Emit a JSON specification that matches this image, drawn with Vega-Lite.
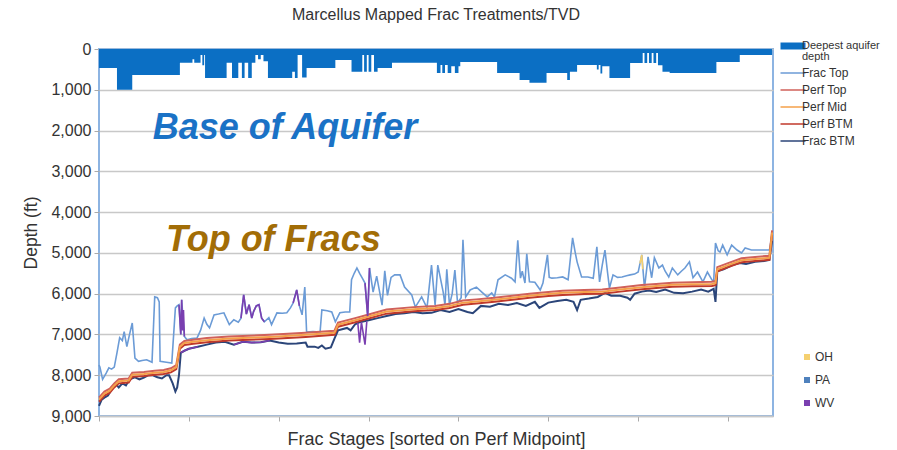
{
"$schema": "https://vega.github.io/schema/vega-lite/v6.json",
"width": 674, "height": 367,
"autosize": {"type": "none"},
"padding": {"left": 99, "top": 49, "right": 124, "bottom": 34},
"background": "white",
"config": {"font": "Liberation Sans", "view": {"stroke": "#8db4e2", "strokeWidth": 2}},
"title": {"text": "Marcellus Mapped Frac Treatments/TVD", "fontSize": 16, "fontWeight": "normal", "color": "#333", "frame": "group", "anchor": "middle", "offset": 17},
"datasets": {
"aquifer": [
{"x":0,"d":465},{"x":20,"d":1000},{"x":37,"d":640},{"x":90,"d":340},{"x":104,"d":250},{"x":106,"d":340},{"x":113,"d":150},{"x":115,"d":400},{"x":117,"d":150},{"x":118,"d":710},{"x":142,"d":340},{"x":148,"d":710},{"x":155,"d":340},{"x":159,"d":710},{"x":162,"d":340},{"x":166,"d":710},{"x":170,"d":340},{"x":174,"d":150},{"x":177,"d":250},{"x":180,"d":150},{"x":183,"d":300},{"x":188,"d":710},{"x":215,"d":560},{"x":218,"d":710},{"x":221,"d":150},{"x":226,"d":700},{"x":231,"d":465},{"x":263,"d":270},{"x":281,"d":560},{"x":293,"d":150},{"x":295,"d":560},{"x":298,"d":150},{"x":300,"d":560},{"x":303,"d":150},{"x":306,"d":560},{"x":310,"d":465},{"x":326,"d":340},{"x":376,"d":590},{"x":380,"d":390},{"x":382,"d":590},{"x":385,"d":390},{"x":388,"d":590},{"x":392,"d":420},{"x":396,"d":590},{"x":400,"d":420},{"x":402,"d":320},{"x":443,"d":590},{"x":468,"d":760},{"x":479,"d":830},{"x":498,"d":590},{"x":521,"d":760},{"x":524,"d":560},{"x":532,"d":390},{"x":554,"d":500},{"x":556,"d":390},{"x":558,"d":600},{"x":560,"d":420},{"x":568,"d":710},{"x":591,"d":343},{"x":605,"d":100},{"x":607,"d":343},{"x":610,"d":100},{"x":612,"d":343},{"x":615,"d":100},{"x":617,"d":343},{"x":620,"d":100},{"x":622,"d":400},{"x":627,"d":560},{"x":635,"d":590},{"x":687,"d":320},{"x":713,"d":150},{"x":749,"d":150}
],
"lines": [
{"s":"Frac Top","x":0,"d":7750},{"s":"Frac Top","x":1,"d":7800},{"s":"Frac Top","x":4,"d":8100},{"s":"Frac Top","x":8,"d":7950},{"s":"Frac Top","x":11,"d":7820},{"s":"Frac Top","x":14,"d":7850},{"s":"Frac Top","x":17,"d":7800},{"s":"Frac Top","x":20,"d":7450},{"s":"Frac Top","x":23,"d":7080},{"s":"Frac Top","x":26,"d":7150},{"s":"Frac Top","x":28,"d":6930},{"s":"Frac Top","x":31,"d":7300},{"s":"Frac Top","x":34,"d":7000},{"s":"Frac Top","x":37,"d":6720},{"s":"Frac Top","x":40,"d":7580},{"s":"Frac Top","x":44,"d":7660},{"s":"Frac Top","x":48,"d":7640},{"s":"Frac Top","x":53,"d":7620},{"s":"Frac Top","x":56,"d":7650},{"s":"Frac Top","x":59,"d":7680},{"s":"Frac Top","x":62,"d":6080},{"s":"Frac Top","x":65,"d":6100},{"s":"Frac Top","x":67,"d":6200},{"s":"Frac Top","x":68,"d":7660},{"s":"Frac Top","x":75,"d":7680},{"s":"Frac Top","x":81,"d":7700},{"s":"Frac Top","x":85,"d":6350},{"s":"Frac Top","x":87,"d":6300},{"s":"Frac Top","x":89,"d":6270},{"s":"Frac Top","x":91,"d":7000},{"s":"Frac Top","x":92,"d":6150},{"s":"Frac Top","x":95,"d":7050},{"s":"Frac Top","x":98,"d":7130},{"s":"Frac Top","x":103,"d":7100},{"s":"Frac Top","x":109,"d":7090},{"s":"Frac Top","x":113,"d":6900},{"s":"Frac Top","x":117,"d":6600},{"s":"Frac Top","x":120,"d":6750},{"s":"Frac Top","x":123,"d":6840},{"s":"Frac Top","x":128,"d":6520},{"s":"Frac Top","x":133,"d":6500},{"s":"Frac Top","x":139,"d":6470},{"s":"Frac Top","x":145,"d":6760},{"s":"Frac Top","x":150,"d":6640},{"s":"Frac Top","x":155,"d":6700},{"s":"Frac Top","x":158,"d":6600},{"s":"Frac Top","x":161,"d":6030},{"s":"Frac Top","x":164,"d":6500},{"s":"Frac Top","x":167,"d":6270},{"s":"Frac Top","x":170,"d":6600},{"s":"Frac Top","x":172,"d":6440},{"s":"Frac Top","x":175,"d":6300},{"s":"Frac Top","x":178,"d":6270},{"s":"Frac Top","x":181,"d":6600},{"s":"Frac Top","x":184,"d":6690},{"s":"Frac Top","x":189,"d":6590},{"s":"Frac Top","x":192,"d":6760},{"s":"Frac Top","x":198,"d":6470},{"s":"Frac Top","x":204,"d":6480},{"s":"Frac Top","x":209,"d":6470},{"s":"Frac Top","x":213,"d":6350},{"s":"Frac Top","x":216,"d":6230},{"s":"Frac Top","x":220,"d":5910},{"s":"Frac Top","x":223,"d":6300},{"s":"Frac Top","x":226,"d":6520},{"s":"Frac Top","x":229,"d":5840},{"s":"Frac Top","x":231,"d":6940},{"s":"Frac Top","x":238,"d":6930},{"s":"Frac Top","x":246,"d":6940},{"s":"Frac Top","x":248,"d":6400},{"s":"Frac Top","x":254,"d":6420},{"s":"Frac Top","x":259,"d":6450},{"s":"Frac Top","x":263,"d":6690},{"s":"Frac Top","x":268,"d":6470},{"s":"Frac Top","x":274,"d":6450},{"s":"Frac Top","x":279,"d":6450},{"s":"Frac Top","x":281,"d":5660},{"s":"Frac Top","x":284,"d":5500},{"s":"Frac Top","x":287,"d":5370},{"s":"Frac Top","x":290,"d":5500},{"s":"Frac Top","x":293,"d":5620},{"s":"Frac Top","x":296,"d":5740},{"s":"Frac Top","x":299,"d":6550},{"s":"Frac Top","x":301,"d":5370},{"s":"Frac Top","x":305,"d":5960},{"s":"Frac Top","x":309,"d":5570},{"s":"Frac Top","x":315,"d":6280},{"s":"Frac Top","x":318,"d":5440},{"s":"Frac Top","x":321,"d":6040},{"s":"Frac Top","x":325,"d":5600},{"s":"Frac Top","x":329,"d":5540},{"s":"Frac Top","x":335,"d":5540},{"s":"Frac Top","x":340,"d":5840},{"s":"Frac Top","x":348,"d":6030},{"s":"Frac Top","x":352,"d":6330},{"s":"Frac Top","x":359,"d":6080},{"s":"Frac Top","x":365,"d":6350},{"s":"Frac Top","x":370,"d":5300},{"s":"Frac Top","x":374,"d":6280},{"s":"Frac Top","x":377,"d":5300},{"s":"Frac Top","x":383,"d":5960},{"s":"Frac Top","x":385,"d":6280},{"s":"Frac Top","x":387,"d":5400},{"s":"Frac Top","x":390,"d":6280},{"s":"Frac Top","x":393,"d":6000},{"s":"Frac Top","x":396,"d":5420},{"s":"Frac Top","x":399,"d":6230},{"s":"Frac Top","x":403,"d":6100},{"s":"Frac Top","x":405,"d":4680},{"s":"Frac Top","x":408,"d":6080},{"s":"Frac Top","x":413,"d":5910},{"s":"Frac Top","x":420,"d":5840},{"s":"Frac Top","x":426,"d":5960},{"s":"Frac Top","x":432,"d":6080},{"s":"Frac Top","x":437,"d":5980},{"s":"Frac Top","x":440,"d":6080},{"s":"Frac Top","x":444,"d":5660},{"s":"Frac Top","x":452,"d":5540},{"s":"Frac Top","x":459,"d":5620},{"s":"Frac Top","x":463,"d":5710},{"s":"Frac Top","x":466,"d":4690},{"s":"Frac Top","x":469,"d":5620},{"s":"Frac Top","x":471,"d":5450},{"s":"Frac Top","x":474,"d":5740},{"s":"Frac Top","x":476,"d":5020},{"s":"Frac Top","x":479,"d":5710},{"s":"Frac Top","x":485,"d":5720},{"s":"Frac Top","x":491,"d":5910},{"s":"Frac Top","x":494,"d":5740},{"s":"Frac Top","x":499,"d":5050},{"s":"Frac Top","x":501,"d":5600},{"s":"Frac Top","x":504,"d":5620},{"s":"Frac Top","x":510,"d":5610},{"s":"Frac Top","x":516,"d":5590},{"s":"Frac Top","x":522,"d":5660},{"s":"Frac Top","x":527,"d":4630},{"s":"Frac Top","x":530,"d":5000},{"s":"Frac Top","x":532,"d":5220},{"s":"Frac Top","x":537,"d":5590},{"s":"Frac Top","x":544,"d":5590},{"s":"Frac Top","x":550,"d":5620},{"s":"Frac Top","x":554,"d":4850},{"s":"Frac Top","x":557,"d":5710},{"s":"Frac Top","x":560,"d":5300},{"s":"Frac Top","x":563,"d":4930},{"s":"Frac Top","x":566,"d":5500},{"s":"Frac Top","x":568,"d":5860},{"s":"Frac Top","x":572,"d":5540},{"s":"Frac Top","x":577,"d":5600},{"s":"Frac Top","x":582,"d":5590},{"s":"Frac Top","x":587,"d":5560},{"s":"Frac Top","x":591,"d":5540},{"s":"Frac Top","x":596,"d":5520},{"s":"Frac Top","x":600,"d":5470},{"s":"Frac Top","x":604,"d":5050},{"s":"Frac Top","x":607,"d":5860},{"s":"Frac Top","x":611,"d":5100},{"s":"Frac Top","x":615,"d":5610},{"s":"Frac Top","x":618,"d":5120},{"s":"Frac Top","x":623,"d":5370},{"s":"Frac Top","x":627,"d":5300},{"s":"Frac Top","x":630,"d":5450},{"s":"Frac Top","x":634,"d":5590},{"s":"Frac Top","x":638,"d":5370},{"s":"Frac Top","x":644,"d":5540},{"s":"Frac Top","x":648,"d":5450},{"s":"Frac Top","x":652,"d":5370},{"s":"Frac Top","x":657,"d":5220},{"s":"Frac Top","x":661,"d":5610},{"s":"Frac Top","x":666,"d":5470},{"s":"Frac Top","x":672,"d":5710},{"s":"Frac Top","x":677,"d":5470},{"s":"Frac Top","x":682,"d":5660},{"s":"Frac Top","x":684,"d":5700},{"s":"Frac Top","x":686,"d":4760},{"s":"Frac Top","x":689,"d":4950},{"s":"Frac Top","x":691,"d":4980},{"s":"Frac Top","x":694,"d":4810},{"s":"Frac Top","x":699,"d":5050},{"s":"Frac Top","x":704,"d":4810},{"s":"Frac Top","x":710,"d":4930},{"s":"Frac Top","x":715,"d":5000},{"s":"Frac Top","x":719,"d":4880},{"s":"Frac Top","x":726,"d":4930},{"s":"Frac Top","x":738,"d":4930},{"s":"Frac Top","x":746,"d":4930},{"s":"Frac Top","x":749,"d":4560},
{"s":"Frac BTM","x":0,"d":8750},{"s":"Frac BTM","x":3,"d":8600},{"s":"Frac BTM","x":6,"d":8550},{"s":"Frac BTM","x":10,"d":8500},{"s":"Frac BTM","x":14,"d":8350},{"s":"Frac BTM","x":18,"d":8200},{"s":"Frac BTM","x":22,"d":8300},{"s":"Frac BTM","x":26,"d":8200},{"s":"Frac BTM","x":30,"d":8250},{"s":"Frac BTM","x":34,"d":8100},{"s":"Frac BTM","x":40,"d":8050},{"s":"Frac BTM","x":45,"d":8100},{"s":"Frac BTM","x":50,"d":8060},{"s":"Frac BTM","x":55,"d":8000},{"s":"Frac BTM","x":60,"d":8000},{"s":"Frac BTM","x":65,"d":8050},{"s":"Frac BTM","x":70,"d":8080},{"s":"Frac BTM","x":75,"d":8000},{"s":"Frac BTM","x":78,"d":8000},{"s":"Frac BTM","x":82,"d":8200},{"s":"Frac BTM","x":85,"d":8400},{"s":"Frac BTM","x":87,"d":8300},{"s":"Frac BTM","x":89,"d":8000},{"s":"Frac BTM","x":91,"d":7450},{"s":"Frac BTM","x":95,"d":7400},{"s":"Frac BTM","x":100,"d":7350},{"s":"Frac BTM","x":110,"d":7300},{"s":"Frac BTM","x":120,"d":7250},{"s":"Frac BTM","x":130,"d":7200},{"s":"Frac BTM","x":140,"d":7180},{"s":"Frac BTM","x":150,"d":7250},{"s":"Frac BTM","x":160,"d":7180},{"s":"Frac BTM","x":170,"d":7200},{"s":"Frac BTM","x":180,"d":7190},{"s":"Frac BTM","x":190,"d":7150},{"s":"Frac BTM","x":200,"d":7200},{"s":"Frac BTM","x":210,"d":7230},{"s":"Frac BTM","x":220,"d":7220},{"s":"Frac BTM","x":230,"d":7200},{"s":"Frac BTM","x":232,"d":7300},{"s":"Frac BTM","x":240,"d":7300},{"s":"Frac BTM","x":244,"d":7330},{"s":"Frac BTM","x":248,"d":7270},{"s":"Frac BTM","x":252,"d":7350},{"s":"Frac BTM","x":258,"d":7320},{"s":"Frac BTM","x":262,"d":7100},{"s":"Frac BTM","x":266,"d":6900},{"s":"Frac BTM","x":276,"d":6840},{"s":"Frac BTM","x":280,"d":6900},{"s":"Frac BTM","x":285,"d":6750},{"s":"Frac BTM","x":290,"d":6700},{"s":"Frac BTM","x":300,"d":6650},{"s":"Frac BTM","x":310,"d":6600},{"s":"Frac BTM","x":320,"d":6550},{"s":"Frac BTM","x":330,"d":6500},{"s":"Frac BTM","x":340,"d":6480},{"s":"Frac BTM","x":350,"d":6450},{"s":"Frac BTM","x":360,"d":6480},{"s":"Frac BTM","x":370,"d":6470},{"s":"Frac BTM","x":380,"d":6400},{"s":"Frac BTM","x":390,"d":6450},{"s":"Frac BTM","x":400,"d":6380},{"s":"Frac BTM","x":410,"d":6450},{"s":"Frac BTM","x":416,"d":6480},{"s":"Frac BTM","x":425,"d":6300},{"s":"Frac BTM","x":435,"d":6320},{"s":"Frac BTM","x":445,"d":6250},{"s":"Frac BTM","x":455,"d":6280},{"s":"Frac BTM","x":465,"d":6230},{"s":"Frac BTM","x":475,"d":6300},{"s":"Frac BTM","x":485,"d":6200},{"s":"Frac BTM","x":490,"d":6350},{"s":"Frac BTM","x":500,"d":6220},{"s":"Frac BTM","x":510,"d":6180},{"s":"Frac BTM","x":520,"d":6150},{"s":"Frac BTM","x":528,"d":6200},{"s":"Frac BTM","x":532,"d":6400},{"s":"Frac BTM","x":536,"d":6150},{"s":"Frac BTM","x":545,"d":6120},{"s":"Frac BTM","x":555,"d":6080},{"s":"Frac BTM","x":563,"d":5980},{"s":"Frac BTM","x":570,"d":6050},{"s":"Frac BTM","x":580,"d":6050},{"s":"Frac BTM","x":588,"d":6100},{"s":"Frac BTM","x":591,"d":6150},{"s":"Frac BTM","x":596,"d":6000},{"s":"Frac BTM","x":604,"d":5950},{"s":"Frac BTM","x":612,"d":5920},{"s":"Frac BTM","x":620,"d":5960},{"s":"Frac BTM","x":630,"d":5900},{"s":"Frac BTM","x":640,"d":5980},{"s":"Frac BTM","x":650,"d":5990},{"s":"Frac BTM","x":660,"d":5950},{"s":"Frac BTM","x":670,"d":5900},{"s":"Frac BTM","x":678,"d":5950},{"s":"Frac BTM","x":684,"d":5880},{"s":"Frac BTM","x":686,"d":6200},{"s":"Frac BTM","x":688,"d":5450},{"s":"Frac BTM","x":695,"d":5400},{"s":"Frac BTM","x":705,"d":5300},{"s":"Frac BTM","x":713,"d":5250},{"s":"Frac BTM","x":720,"d":5270},{"s":"Frac BTM","x":730,"d":5220},{"s":"Frac BTM","x":740,"d":5200},{"s":"Frac BTM","x":746,"d":5170},{"s":"Frac BTM","x":749,"d":4700},
{"s":"Perf Top","x":0,"d":8550},{"s":"Perf Top","x":6,"d":8400},{"s":"Perf Top","x":12,"d":8330},{"s":"Perf Top","x":17,"d":8200},{"s":"Perf Top","x":22,"d":8100},{"s":"Perf Top","x":33,"d":8080},{"s":"Perf Top","x":37,"d":7940},{"s":"Perf Top","x":50,"d":7920},{"s":"Perf Top","x":62,"d":7890},{"s":"Perf Top","x":72,"d":7870},{"s":"Perf Top","x":80,"d":7830},{"s":"Perf Top","x":86,"d":7750},{"s":"Perf Top","x":90,"d":7250},{"s":"Perf Top","x":95,"d":7160},{"s":"Perf Top","x":105,"d":7130},{"s":"Perf Top","x":120,"d":7090},{"s":"Perf Top","x":145,"d":7050},{"s":"Perf Top","x":190,"d":7010},{"s":"Perf Top","x":230,"d":6960},{"s":"Perf Top","x":262,"d":6910},{"s":"Perf Top","x":266,"d":6710},{"s":"Perf Top","x":285,"d":6600},{"s":"Perf Top","x":300,"d":6510},{"s":"Perf Top","x":320,"d":6390},{"s":"Perf Top","x":350,"d":6330},{"s":"Perf Top","x":374,"d":6300},{"s":"Perf Top","x":390,"d":6250},{"s":"Perf Top","x":405,"d":6170},{"s":"Perf Top","x":420,"d":6140},{"s":"Perf Top","x":440,"d":6100},{"s":"Perf Top","x":460,"d":6050},{"s":"Perf Top","x":479,"d":6000},{"s":"Perf Top","x":500,"d":5960},{"s":"Perf Top","x":516,"d":5930},{"s":"Perf Top","x":540,"d":5910},{"s":"Perf Top","x":560,"d":5900},{"s":"Perf Top","x":580,"d":5850},{"s":"Perf Top","x":604,"d":5790},{"s":"Perf Top","x":620,"d":5760},{"s":"Perf Top","x":638,"d":5730},{"s":"Perf Top","x":660,"d":5720},{"s":"Perf Top","x":682,"d":5710},{"s":"Perf Top","x":686,"d":5690},{"s":"Perf Top","x":688,"d":5350},{"s":"Perf Top","x":700,"d":5250},{"s":"Perf Top","x":715,"d":5130},{"s":"Perf Top","x":730,"d":5100},{"s":"Perf Top","x":746,"d":5070},{"s":"Perf Top","x":749,"d":4450},
{"s":"Perf BTM","x":0,"d":8650},{"s":"Perf BTM","x":6,"d":8500},{"s":"Perf BTM","x":12,"d":8430},{"s":"Perf BTM","x":17,"d":8300},{"s":"Perf BTM","x":22,"d":8200},{"s":"Perf BTM","x":33,"d":8180},{"s":"Perf BTM","x":37,"d":8040},{"s":"Perf BTM","x":50,"d":8020},{"s":"Perf BTM","x":62,"d":7990},{"s":"Perf BTM","x":72,"d":7970},{"s":"Perf BTM","x":80,"d":7930},{"s":"Perf BTM","x":86,"d":7850},{"s":"Perf BTM","x":90,"d":7350},{"s":"Perf BTM","x":95,"d":7260},{"s":"Perf BTM","x":105,"d":7230},{"s":"Perf BTM","x":120,"d":7190},{"s":"Perf BTM","x":145,"d":7150},{"s":"Perf BTM","x":190,"d":7110},{"s":"Perf BTM","x":230,"d":7060},{"s":"Perf BTM","x":262,"d":7010},{"s":"Perf BTM","x":266,"d":6810},{"s":"Perf BTM","x":285,"d":6700},{"s":"Perf BTM","x":300,"d":6610},{"s":"Perf BTM","x":320,"d":6490},{"s":"Perf BTM","x":350,"d":6430},{"s":"Perf BTM","x":374,"d":6400},{"s":"Perf BTM","x":390,"d":6350},{"s":"Perf BTM","x":405,"d":6270},{"s":"Perf BTM","x":420,"d":6240},{"s":"Perf BTM","x":440,"d":6200},{"s":"Perf BTM","x":460,"d":6150},{"s":"Perf BTM","x":479,"d":6100},{"s":"Perf BTM","x":500,"d":6060},{"s":"Perf BTM","x":516,"d":6030},{"s":"Perf BTM","x":540,"d":6010},{"s":"Perf BTM","x":560,"d":6000},{"s":"Perf BTM","x":580,"d":5950},{"s":"Perf BTM","x":604,"d":5890},{"s":"Perf BTM","x":620,"d":5860},{"s":"Perf BTM","x":638,"d":5830},{"s":"Perf BTM","x":660,"d":5820},{"s":"Perf BTM","x":682,"d":5810},{"s":"Perf BTM","x":686,"d":5790},{"s":"Perf BTM","x":688,"d":5450},{"s":"Perf BTM","x":700,"d":5350},{"s":"Perf BTM","x":715,"d":5230},{"s":"Perf BTM","x":730,"d":5200},{"s":"Perf BTM","x":746,"d":5170},{"s":"Perf BTM","x":749,"d":4550},
{"s":"Perf Mid","x":0,"d":8600},{"s":"Perf Mid","x":6,"d":8450},{"s":"Perf Mid","x":12,"d":8380},{"s":"Perf Mid","x":17,"d":8250},{"s":"Perf Mid","x":22,"d":8150},{"s":"Perf Mid","x":33,"d":8130},{"s":"Perf Mid","x":37,"d":7990},{"s":"Perf Mid","x":50,"d":7970},{"s":"Perf Mid","x":62,"d":7940},{"s":"Perf Mid","x":72,"d":7920},{"s":"Perf Mid","x":80,"d":7880},{"s":"Perf Mid","x":86,"d":7800},{"s":"Perf Mid","x":90,"d":7300},{"s":"Perf Mid","x":95,"d":7210},{"s":"Perf Mid","x":105,"d":7180},{"s":"Perf Mid","x":120,"d":7140},{"s":"Perf Mid","x":145,"d":7100},{"s":"Perf Mid","x":190,"d":7060},{"s":"Perf Mid","x":230,"d":7010},{"s":"Perf Mid","x":262,"d":6960},{"s":"Perf Mid","x":266,"d":6760},{"s":"Perf Mid","x":285,"d":6650},{"s":"Perf Mid","x":300,"d":6560},{"s":"Perf Mid","x":320,"d":6440},{"s":"Perf Mid","x":350,"d":6380},{"s":"Perf Mid","x":374,"d":6350},{"s":"Perf Mid","x":390,"d":6300},{"s":"Perf Mid","x":405,"d":6220},{"s":"Perf Mid","x":420,"d":6190},{"s":"Perf Mid","x":440,"d":6150},{"s":"Perf Mid","x":460,"d":6100},{"s":"Perf Mid","x":479,"d":6050},{"s":"Perf Mid","x":500,"d":6010},{"s":"Perf Mid","x":516,"d":5980},{"s":"Perf Mid","x":540,"d":5960},{"s":"Perf Mid","x":560,"d":5950},{"s":"Perf Mid","x":580,"d":5900},{"s":"Perf Mid","x":604,"d":5840},{"s":"Perf Mid","x":620,"d":5810},{"s":"Perf Mid","x":638,"d":5780},{"s":"Perf Mid","x":660,"d":5770},{"s":"Perf Mid","x":682,"d":5760},{"s":"Perf Mid","x":686,"d":5740},{"s":"Perf Mid","x":688,"d":5400},{"s":"Perf Mid","x":700,"d":5300},{"s":"Perf Mid","x":715,"d":5180},{"s":"Perf Mid","x":730,"d":5150},{"s":"Perf Mid","x":746,"d":5120},{"s":"Perf Mid","x":749,"d":4500}
],
"states": [
{"st":"WV","g":"w1","x":89,"d":6270},{"st":"WV","g":"w1","x":91,"d":7000},{"st":"WV","g":"w1","x":92,"d":6150},{"st":"WV","g":"w1","x":93,"d":6900},{"st":"WV","g":"w1","x":94,"d":6400},{"st":"WV","g":"w1","x":95,"d":7050},
{"st":"WV","g":"w2","x":91,"d":7450},{"st":"WV","g":"w2","x":95,"d":7400},{"st":"WV","g":"w2","x":100,"d":7350},{"st":"WV","g":"w2","x":110,"d":7300},
{"st":"WV","g":"w3","x":158,"d":6600},{"st":"WV","g":"w3","x":161,"d":6030},{"st":"WV","g":"w3","x":164,"d":6500},{"st":"WV","g":"w3","x":167,"d":6270},{"st":"WV","g":"w3","x":170,"d":6600},{"st":"WV","g":"w3","x":172,"d":6440},{"st":"WV","g":"w3","x":175,"d":6300},{"st":"WV","g":"w3","x":178,"d":6270},{"st":"WV","g":"w3","x":181,"d":6600},{"st":"WV","g":"w3","x":184,"d":6690},
{"st":"WV","g":"w4","x":150,"d":7250},{"st":"WV","g":"w4","x":160,"d":7180},{"st":"WV","g":"w4","x":170,"d":7200},{"st":"WV","g":"w4","x":180,"d":7190},{"st":"WV","g":"w4","x":190,"d":7150},
{"st":"WV","g":"w5","x":216,"d":6230},{"st":"WV","g":"w5","x":220,"d":5910},{"st":"WV","g":"w5","x":223,"d":6300},
{"st":"WV","g":"w6","x":296,"d":5740},{"st":"WV","g":"w6","x":299,"d":6550},{"st":"WV","g":"w6","x":301,"d":5370},
{"st":"WV","g":"w7","x":288,"d":6720},{"st":"WV","g":"w7","x":290,"d":7200},{"st":"WV","g":"w7","x":292,"d":6700},{"st":"WV","g":"w7","x":296,"d":7250},{"st":"WV","g":"w7","x":298,"d":6680},
{"st":"OH","g":"o1","x":602,"d":5260},{"st":"OH","g":"o1","x":604,"d":5050},{"st":"OH","g":"o1","x":605,"d":5400}
],
"notes": [
{"t":"Base of Aquifer","x":207,"d":2207},
{"t":"Top of Fracs","x":194,"d":4953}
]
},
"encoding": {
"x": {"field": "x", "type": "quantitative", "scale": {"domain": [0, 750], "nice": false, "zero": false},
 "axis": {"values": [0,100,200,300,400,500,600,700], "labels": false, "ticks": true, "tickSize": 5, "tickColor": "#aaaaaa", "domain": true, "domainColor": "#c8c8c8", "domainWidth": 1.5, "grid": false, "title": "Frac Stages [sorted on Perf Midpoint]", "titleFontSize": 18, "titleFontWeight": "normal", "titleColor": "#333333", "titlePadding": 9}},
"y": {"field": "d", "type": "quantitative", "scale": {"domain": [0, 9000], "reverse": true, "nice": false},
 "axis": {"values": [0,1000,2000,3000,4000,5000,6000,7000,8000,9000], "format": ",d", "grid": true, "gridColor": "#c8c8c8", "gridWidth": 1.5, "domain": false, "ticks": true, "tickSize": 5, "tickColor": "#aaaaaa", "labelFontSize": 16, "labelColor": "#333333", "labelPadding": 3, "title": "Depth (ft)", "titleFontSize": 17.5, "titleFontWeight": "normal", "titleColor": "#333333", "titlePadding": 10}}
},
"layer": [
{"data": {"name": "lines"}, "transform": [{"filter": "datum.s === 'Frac Top'"}], "mark": {"type": "line", "strokeWidth": 1.6},
 "encoding": {"color": {"field": "s", "type": "nominal",
  "scale": {"domain": ["Deepest aquifer depth","Frac Top","Perf Top","Perf Mid","Perf BTM","Frac BTM"], "range": ["#0b6fc4","#6b9bd6","#d0605a","#f5a04a","#c0392b","#2b4579"]},
  "legend": {"title": null, "orient": "none", "legendX": 688, "legendY": -9, "padding": 0, "symbolType": "stroke", "symbolSize": 625, "symbolStrokeWidth": 1.5, "labelFontSize": 12, "labelColor": "#333333", "labelOffset": 3, "rowPadding": 5,
   "labelExpr": "datum.label === 'Deepest aquifer depth' ? ['Deepest aquifer', 'depth'] : datum.label",
   "encode": {"symbols": {"update": {"strokeWidth": {"signal": "datum.value === 'Deepest aquifer depth' ? 7 : 1.5"}}},
              "labels": {"update": {"fontSize": {"signal": "datum.value === 'Deepest aquifer depth' ? 11 : 12"}, "lineHeight": {"value": 11}}}}}}}},
{"data": {"name": "lines"}, "transform": [{"filter": "datum.s === 'Frac BTM'"}], "mark": {"type": "line", "strokeWidth": 2}, "encoding": {"color": {"field": "s", "type": "nominal"}}},
{"data": {"name": "lines"}, "transform": [{"filter": "datum.s === 'Perf Top'"}], "mark": {"type": "line", "strokeWidth": 2}, "encoding": {"color": {"field": "s", "type": "nominal"}}},
{"data": {"name": "lines"}, "transform": [{"filter": "datum.s === 'Perf BTM'"}], "mark": {"type": "line", "strokeWidth": 2}, "encoding": {"color": {"field": "s", "type": "nominal"}}},
{"data": {"name": "lines"}, "transform": [{"filter": "datum.s === 'Perf Mid'"}], "mark": {"type": "line", "strokeWidth": 2}, "encoding": {"color": {"field": "s", "type": "nominal"}}},
{"data": {"name": "states"}, "mark": {"type": "line", "strokeWidth": 1.6},
 "encoding": {"detail": {"field": "g"}, "stroke": {"field": "st", "type": "nominal",
  "scale": {"domain": ["OH","PA","WV"], "range": ["#f5d070","#4f81bd","#7a3fb0"]},
  "legend": {"title": null, "orient": "none", "legendX": 702, "legendY": 302, "padding": 0, "symbolType": "square", "symbolSize": 4, "symbolStrokeWidth": 4, "labelFontSize": 12, "labelColor": "#333333", "labelOffset": 2, "rowPadding": 5}}}},
{"data": {"name": "aquifer"}, "transform": [{"calculate": "'Deepest aquifer depth'", "as": "s"}], "mark": {"type": "area", "interpolate": "step-after"},
 "encoding": {"y2": {"datum": 0}, "color": {"field": "s", "type": "nominal"}}},
{"data": {"name": "notes"}, "transform": [{"filter": "datum.t === 'Base of Aquifer'"}], "mark": {"type": "text", "fontSize": 36, "fontWeight": "bold", "fontStyle": "italic", "color": "#1a72c6", "align": "center", "baseline": "alphabetic"}, "encoding": {"text": {"field": "t"}}},
{"data": {"name": "notes"}, "transform": [{"filter": "datum.t === 'Top of Fracs'"}], "mark": {"type": "text", "fontSize": 36, "fontWeight": "bold", "fontStyle": "italic", "color": "#a26d06", "align": "center", "baseline": "alphabetic"}, "encoding": {"text": {"field": "t"}}}
]
}
